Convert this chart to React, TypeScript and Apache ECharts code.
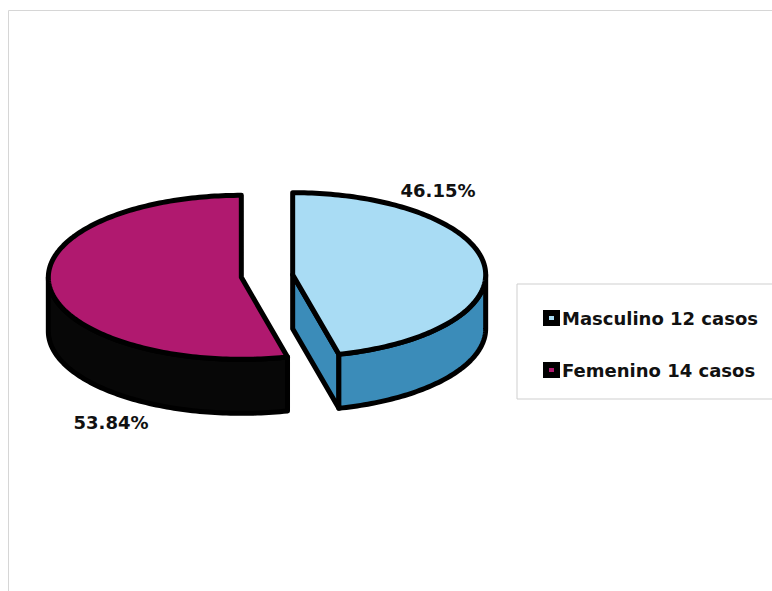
import React, { useEffect, useRef } from "react";
import * as echarts from "echarts";

const categories = ["Masculino 12 casos", "Femenino 14 casos"];
const cases = [12, 14];
const percentLabels = ["46.15%", "53.84%"];
const topColors = ["#A9DCF4", "#B0196F"];
const sideColors = ["#3B8CB9", "#070707"];

const CX = 267;
const CY = 276;
const RX = 193;
const RY = 82;
const DEPTH = 54;
const EXPLODE = 0.134;

const total = cases.reduce((a, b) => a + b, 0);
const startAngles = cases.map(
  (_, i) => -Math.PI / 2 + (2 * Math.PI * cases.slice(0, i).reduce((a, b) => a + b, 0)) / total
);

function arcPts(ox: number, oy: number, s: number, e: number, h: number) {
  const n = Math.max(2, Math.ceil(Math.abs(e - s) / 0.02));
  const pts: number[][] = [];
  for (let k = 0; k <= n; k++) {
    const t = s + ((e - s) * k) / n;
    pts.push([ox + RX * Math.cos(t), oy + RY * Math.sin(t) + h]);
  }
  return pts;
}

function makeRender(idx: number) {
  return (params: any, api: any) => {
    const v = api.value(0);
    const a0 = startAngles[idx];
    const a1 = a0 + (2 * Math.PI * v) / total;
    const mid = (a0 + a1) / 2;
    const ox = CX + EXPLODE * RX * Math.cos(mid);
    const oy = CY + EXPLODE * RY * Math.sin(mid);
    const stroke = { stroke: "#000", lineWidth: 5, lineJoin: "round" };
    const P = (t: number, h: number) => [ox + RX * Math.cos(t), oy + RY * Math.sin(t) + h];
    const children: any[] = [];
    if (Math.cos(a0) < -1e-6) {
      children.push({
        type: "polygon",
        shape: { points: [[ox, oy], P(a0, 0), P(a0, DEPTH), [ox, oy + DEPTH]] },
        style: { fill: sideColors[idx], ...stroke },
      });
    }
    if (Math.cos(a1) > 1e-6) {
      children.push({
        type: "polygon",
        shape: { points: [[ox, oy], P(a1, 0), P(a1, DEPTH), [ox, oy + DEPTH]] },
        style: { fill: sideColors[idx], ...stroke },
      });
    }
    for (let k = -1; k <= 1; k++) {
      const s = Math.max(a0, 2 * Math.PI * k);
      const e = Math.min(a1, 2 * Math.PI * k + Math.PI);
      if (e - s > 1e-4) {
        const top = arcPts(ox, oy, s, e, 0);
        const bot = arcPts(ox, oy, s, e, DEPTH).reverse();
        children.push({
          type: "polygon",
          shape: { points: top.concat(bot) },
          style: { fill: sideColors[idx], ...stroke },
        });
      }
    }
    children.push({
      type: "polygon",
      shape: { points: [[ox, oy]].concat(arcPts(ox, oy, a0, a1, 0)) },
      style: { fill: topColors[idx], ...stroke },
    });
    return { type: "group", children };
  };
}

export default function App() {
  const ref = useRef<HTMLDivElement>(null);
  useEffect(() => {
    if (!ref.current) return;
    const chart = echarts.init(ref.current, undefined, { renderer: "svg" });
    chart.setOption({
      animation: false,
      backgroundColor: "#fff",
      legend: {
        orient: "vertical",
        left: 517,
        top: 284,
        icon: "rect",
        itemWidth: 11,
        itemHeight: 10,
        itemGap: 34,
        padding: [25, 40, 20, 26],
        backgroundColor: "#fff",
        borderColor: "#cfcfcf",
        borderWidth: 1,
        textStyle: { fontFamily: "DejaVu Sans", fontWeight: "bold", fontSize: 18, color: "#111" },
        data: categories.map((name, i) => ({
          name,
          itemStyle: { color: topColors[i], borderColor: "#000", borderWidth: 6 },
        })),
      },
      graphic: [
        {
          type: "rect",
          silent: true,
          z: -10,
          shape: { x: 8.5, y: 10.5, width: 800, height: 600 },
          style: { fill: "none", stroke: "#d6d6d6", lineWidth: 1 },
        },
        {
          type: "text",
          x: 438,
          y: 190,
          style: {
            text: percentLabels[0],
            fontFamily: "DejaVu Sans",
            fontWeight: "bold",
            fontSize: 18,
            fill: "#111",
            align: "center",
            verticalAlign: "middle",
          },
        },
        {
          type: "text",
          x: 111,
          y: 422,
          style: {
            text: percentLabels[1],
            fontFamily: "DejaVu Sans",
            fontWeight: "bold",
            fontSize: 18,
            fill: "#111",
            align: "center",
            verticalAlign: "middle",
          },
        },
      ],
      series: categories.map((name, i) => ({
        type: "custom",
        name,
        coordinateSystem: "none",
        itemStyle: { color: topColors[i] },
        data: [cases[i]],
        renderItem: makeRender(i),
      })),
    });
    return () => chart.dispose();
  }, []);
  return (
    <div
      ref={ref}
      style={{ position: "fixed", left: 0, top: 0, width: 772, height: 591 }}
    />
  );
}
